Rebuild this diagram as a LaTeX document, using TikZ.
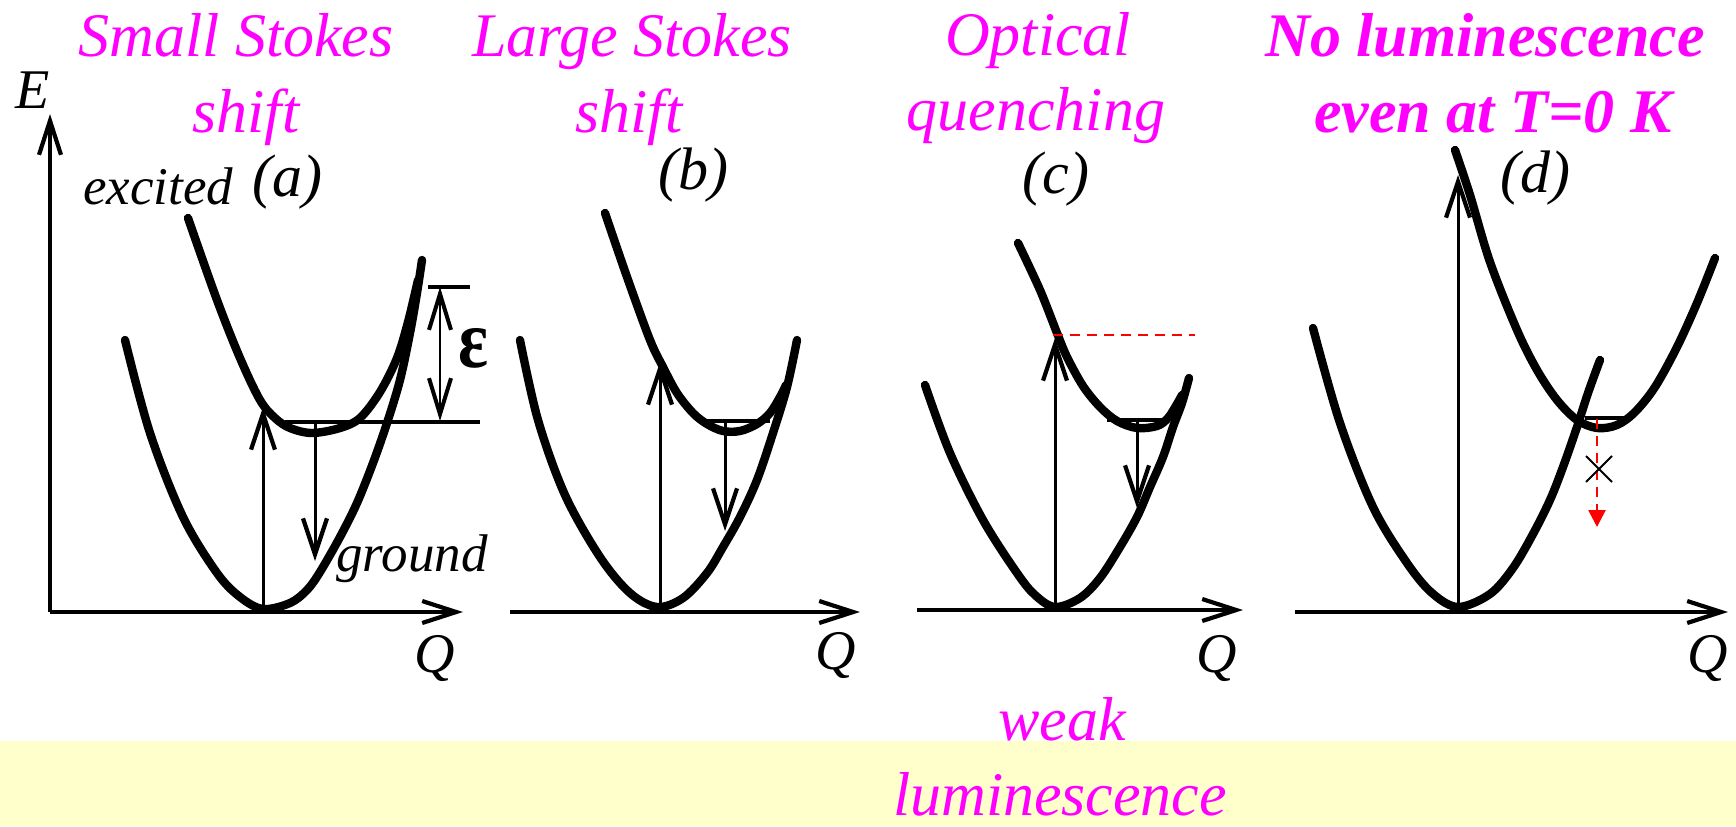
\documentclass[tikz,border=0pt]{standalone}
\usepackage{fontspec}
\usepackage{graphicx}
\setmainfont{Liberation Serif}
\usetikzlibrary{arrows.meta}
\definecolor{mag}{RGB}{255,0,255}
\definecolor{bandcol}{RGB}{255,255,204}
\definecolor{dred}{RGB}{255,0,0}
\begin{document}
\begin{tikzpicture}[x=0.5pt,y=-0.5pt,
  curve/.style={line width=4.2pt, line cap=round, line join=round},
  axis/.style={line width=1.75pt, -{Straight Barb[length=17pt,width=11pt,line width=2.1pt]}},
  trans/.style={line width=1.5pt, -{Straight Barb[length=18pt,width=12pt,line width=2.1pt]}},
  level/.style={line width=2.4pt},
  title/.style={text=mag, font=\fontsize{31}{38}\selectfont\itshape, anchor=base, inner sep=0pt},
  boldtitle/.style={title, font=\fontsize{31}{38}\selectfont\bfseries\itshape},
  lab/.style={font=\fontsize{26.5}{32}\selectfont\itshape, inner sep=0pt},
  axlab/.style={font=\fontsize{28}{32}\selectfont\itshape, inner sep=0pt},
  panlab/.style={font=\fontsize{30}{34}\selectfont\itshape, inner sep=0pt},
  reddash/.style={dred, line width=1.3pt, dash pattern=on 5pt off 3.5pt},
]
\fill[bandcol] (0,741) rectangle (1736,826);
\useasboundingbox (0,0) rectangle (1736,826);

% titles
\node[title] (ta1) at (236,56) {Small Stokes};
\node[title] (ta2) at (246,132) {shift};
\node[title] (tb1) at (632,56) {Large Stokes};
\node[title] (tb2) at (629,132) {shift};
\node[title] (tc1) at (1038,55) {Optical};
\node[title] (tc2) at (1036,130) {quenching};
\node[boldtitle] (td1) at (1485,56) {No luminescence};
\node[boldtitle] (td2) at (1493,132) {even at T=0 K};
\node[title] (w1) at (1062,740) {weak};
\node[title] (w2) at (1060,815) {luminescence};

% labels
\node[axlab] (E) at (33,90) {E};
\node[lab, anchor=base west] (exc) at (83,204) {excited};
\node[lab, anchor=base west] (gnd) at (336,571) {ground};
\node[panlab] (pa) at (287,182) {(a)};
\node[panlab] (pb) at (693,175) {(b)};
\node[panlab] (pc) at (1056,179) {(c)};
\node[panlab] (pd) at (1535,178) {(d)};
\node[axlab] (Qa) at (435,658) {Q};
\node[axlab] (Qb) at (836,655) {Q};
\node[axlab] (Qc) at (1217,658) {Q};
\node[axlab] (Qd) at (1708,658) {Q};
\node[inner sep=0pt] (eps) at (473,348) {\resizebox{15pt}{19.5pt}{\bfseries ε}};

% axes
\coordinate (Oa) at (50,612);
\coordinate (Ea) at (50,114);
\coordinate (Qae) at (463,612);
\coordinate (Ob) at (510,612);
\coordinate (Qbe) at (860,612);
\coordinate (Oc) at (917,610);
\coordinate (Qce) at (1243,610);
\coordinate (Od) at (1295,612);
\coordinate (Qde) at (1728,612);
\draw[axis] (Oa) -- (Ea);
\draw[axis] (Oa) -- (Qae);
\draw[axis] (Ob) -- (Qbe);
\draw[axis] (Oc) -- (Qce);
\draw[axis] (Od) -- (Qde);

% panel (a) curves
\draw[curve] plot[smooth, tension=0.55] coordinates {(125,340) (150,433) (183,517) (217,573) (240,597) (263,609) (290,603) (307,590) (320,572) (340,537) (357,503) (373,463) (387,423) (400,380) (410,333) (417,293) (422,260)};
\draw[curve] plot[smooth, tension=0.55] coordinates {(188,218) (217,300) (240,358) (260,400) (275,418) (290,428) (312,433) (340,428) (360,418) (380,392) (397,358) (408,322) (418,280)};
\coordinate (La1) at (285,422);
\coordinate (La2) at (480,422);
\draw[level] (La1) -- (La2);

% panel (b) curves
\draw[curve] plot[smooth, tension=0.55] coordinates {(520,340) (538,420) (565,495) (600,557) (630,593) (657,607) (683,598) (707,573) (723,547) (740,517) (757,480) (773,433) (787,387) (797,340)};
\draw[curve] plot[smooth, tension=0.55] coordinates {(605,213) (627,277) (650,340) (663,367) (677,393) (693,413) (707,424) (723,431) (740,431) (757,424) (770,413) (780,397) (786,385)};
\coordinate (Lb1) at (700,421);
\coordinate (Lb2) at (770,421);
\draw[level] (Lb1) -- (Lb2);

% panel (c) curves
\draw[curve] plot[smooth, tension=0.55] coordinates {(925,385) (950,453) (983,520) (1017,573) (1035,595) (1055,607) (1080,598) (1100,578) (1120,547) (1137,517) (1150,487) (1163,457) (1173,427) (1182,403) (1189,378)};
\draw[curve] plot[smooth, tension=0.55] coordinates {(1018,243) (1040,290) (1057,333) (1067,357) (1083,386) (1100,407) (1117,421) (1137,428) (1157,426) (1168,418) (1177,404) (1182,395)};
\coordinate (Lc1) at (1107,420);
\coordinate (Lc2) at (1170,420);
\draw[level] (Lc1) -- (Lc2);

% panel (d) curves
\draw[curve] plot[smooth, tension=0.55] coordinates {(1313,328) (1340,423) (1373,507) (1407,563) (1432,593) (1458,607) (1490,594) (1513,568) (1533,534) (1550,500) (1563,467) (1577,427) (1588,393) (1600,360)};
\draw[curve] plot[smooth, tension=0.55] coordinates {(1455,150) (1470,195) (1490,262) (1517,330) (1537,370) (1557,400) (1577,420) (1597,428) (1617,425) (1635,412) (1655,387) (1677,347) (1697,303) (1715,258)};
\coordinate (Ld1) at (1585,418);
\coordinate (Ld2) at (1625,418);
\draw[level] (Ld1) -- (Ld2);

% transitions
\coordinate (a0) at (263,612); \coordinate (a1) at (263,407);
\coordinate (a2) at (315,422); \coordinate (a3) at (315,561);
\draw[trans] (a0) -- (a1);
\draw[trans] (a2) -- (a3);
\coordinate (b0) at (660,612); \coordinate (b1) at (660,362);
\coordinate (b2) at (725,421); \coordinate (b3) at (725,531);
\draw[trans] (b0) -- (b1);
\draw[trans] (b2) -- (b3);
\coordinate (c0) at (1055,610); \coordinate (c1) at (1055,338);
\coordinate (c2) at (1137,420); \coordinate (c3) at (1137,508);
\draw[trans] (c0) -- (c1);
\draw[trans] (c2) -- (c3);
\coordinate (d0) at (1458,612); \coordinate (d1) at (1458,175);
\draw[trans] (d0) -- (d1);

% epsilon marker
\coordinate (ep1) at (440,287); \coordinate (ep2) at (440,421);
\coordinate (tk1) at (428,287); \coordinate (tk2) at (470,287);
\draw[line width=1.4pt, {Straight Barb[length=18pt,width=11pt,line width=2pt]}-{Straight Barb[length=18pt,width=11pt,line width=2pt]}] (ep1) -- (ep2);
\draw[line width=1.6pt] (tk1) -- (tk2);

% red dashed items
\coordinate (r1) at (1053,335); \coordinate (r2) at (1195,335);
\draw[reddash] (r1) -- (r2);
\coordinate (rd1) at (1597,419); \coordinate (rd2) at (1597,527);
\draw[reddash, -{Triangle[length=8.5pt,width=8.5pt]}] (rd1) -- (rd2);
% cross
\coordinate (x1) at (1586,456); \coordinate (x2) at (1612,482);
\coordinate (x3) at (1586,482); \coordinate (x4) at (1612,456);
\draw[line width=1pt] (x1) -- (x2) (x3) -- (x4);
\end{tikzpicture}
\end{document}
